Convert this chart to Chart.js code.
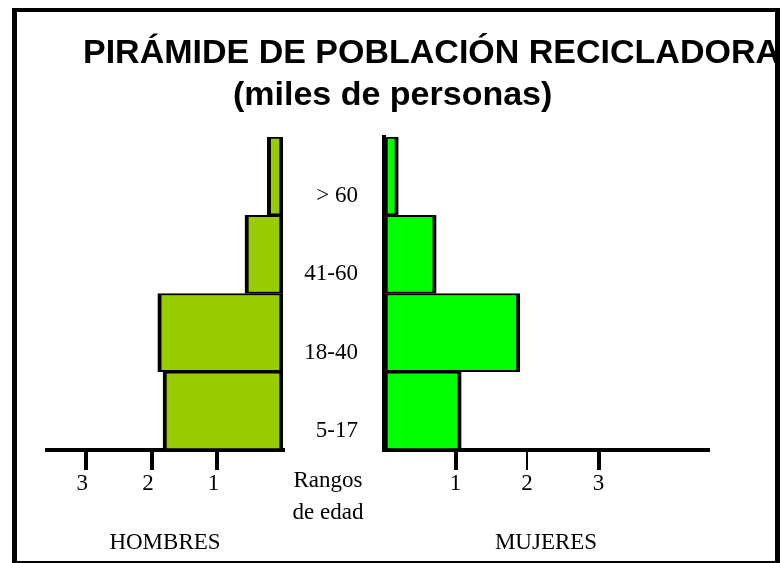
<!DOCTYPE html>
<html lang="es">
<head>
<meta charset="utf-8">
<title>Pirámide de población recicladora</title>
<script src="https://cdn.jsdelivr.net/npm/chart.js@4"></script>
<style>
  body { margin: 0; background: #fff; }
  #wrap { position: relative; width: 780px; height: 563px; overflow: hidden; background: #fff; }
  #izq { position: absolute; left: 0; top: 0; }
  #der { position: absolute; left: 284px; top: 0; }
  #marco {
    position: absolute; left: 12px; top: 8px; width: 768px; height: 555px;
    box-sizing: border-box; border: solid #000; border-width: 4px 5px 2px 5px;
    overflow: hidden; pointer-events: none;
  }
  .tit {
    position: absolute; white-space: nowrap; color: #000;
    font: bold 34px 'Liberation Sans', Arial, sans-serif; line-height: 34px;
  }
  #rangos {
    position: absolute; left: 278px; top: 464px; width: 100px; text-align: center;
    font: 23px 'Liberation Serif', 'Times New Roman', serif; line-height: 32px; color: #000;
  }
</style>
</head>
<body>
<div id="wrap">
  <canvas id="izq" width="300" height="563"></canvas>
  <canvas id="der" width="496" height="563"></canvas>
  <div id="rangos">Rangos<br>de edad</div>
  <div id="marco">
    <div class="tit" style="left:66px; top:22px;">PIRÁMIDE DE POBLACIÓN RECICLADORA</div>
    <div class="tit" style="left:216px; top:64px;">(miles de personas)</div>
  </div>
</div>
<script>
// rangos de edad, de arriba hacia abajo
const rangos = ['> 60', '41-60', '18-40', '5-17'];
// miles de personas
const hombres = [0.24, 0.58, 1.91, 1.83];
const mujeres = [0.2, 0.73, 1.9, 1.08];
const ticksHombres = [1, 2, 3];
const ticksMujeres = [1, 2, 3];

const serif = "'Liberation Serif', 'Times New Roman', serif";
const negro = '#000';

// eje horizontal comun a los dos lados
function ejeX(ticks, titulo, max, reverse, labelOffset) {
    return {
        type: 'linear',
        min: 0,
        max: max,
        reverse: reverse,
        afterBuildTicks: (s) => { s.ticks = ticks.map(v => ({ value: v })); },
        afterFit: (s) => { s.height = 113; },
        grid: {
            display: true,
            drawOnChartArea: false,
            drawTicks: true,
            tickLength: 20,
            color: negro,
            tickColor: negro,
            lineWidth: (c) => (!reverse && c.tick && c.tick.value === 2) ? 2 : 4
        },
        border: { display: true, color: negro, width: 4 },
        ticks: {
            color: negro,
            font: { family: serif, size: 23 },
            padding: 0,
            labelOffset: labelOffset,
            maxRotation: 0,
            autoSkip: false
        },
        title: {
            display: true,
            text: titulo,
            color: negro,
            font: { family: serif, size: 23 },
            padding: { top: 0, bottom: 6 }
        }
    };
}

const barras = {
    borderColor: negro,
    borderWidth: { top: 2, bottom: 2, left: 4, right: 4 },
    borderSkipped: false,
    barPercentage: 1,
    categoryPercentage: 1
};

// HOMBRES (hacia la izquierda)
new Chart(document.getElementById('izq'), {
    type: 'bar',
    data: {
        labels: rangos,
        datasets: [Object.assign({ label: 'Hombres', data: hombres, backgroundColor: '#99CC00' }, barras)]
    },
    options: {
        responsive: false,
        animation: false,
        indexAxis: 'y',
        layout: { padding: { left: 47, right: 17, top: 137, bottom: 0 } },
        plugins: { legend: { display: false }, tooltip: { enabled: false } },
        scales: {
            x: ejeX(ticksHombres, 'HOMBRES', 3.6, true, -4),
            y: { display: false }
        }
    }
});

// MUJERES (hacia la derecha)
new Chart(document.getElementById('der'), {
    type: 'bar',
    data: {
        labels: rangos,
        datasets: [Object.assign({ label: 'Mujeres', data: mujeres, backgroundColor: '#00FF00' }, barras)]
    },
    options: {
        responsive: false,
        animation: false,
        indexAxis: 'y',
        layout: { padding: { left: 0, right: 72, top: 137, bottom: 0 } },
        plugins: { legend: { display: false }, tooltip: { enabled: false } },
        scales: {
            x: ejeX(ticksMujeres, 'MUJERES', 4.53, false, 0),
            y: {
                afterFit: (s) => { s.width = 100; },
                grid: { display: false, drawTicks: false },
                border: { display: true, color: negro, width: 4 },
                ticks: {
                    color: negro,
                    font: { family: serif, size: 23 },
                    padding: 26,
                    labelOffset: 20,
                    crossAlign: 'near'
                }
            }
        }
    }
});
</script>
</body>
</html>
